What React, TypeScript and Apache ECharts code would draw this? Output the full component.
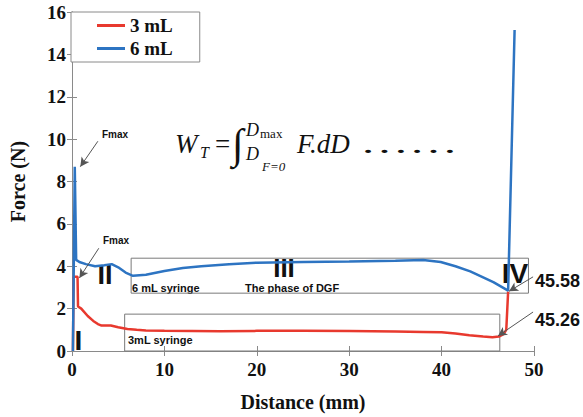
import React, { useEffect, useRef } from "react";
import * as echarts from "echarts";

// 3 mL syringe curve (distance mm, force N)
const dist3 = [0.1, 0.18, 0.6, 0.65, 1.0, 1.7, 2.3, 2.8, 3.2, 4.2, 5.0, 6.0, 7.0, 8.0, 10, 13, 16, 20, 25, 30, 35, 38, 40, 41.5, 43, 44.5, 45.5, 46.2, 46.7, 47.0, 47.2];
const force3 = [0, 3.5, 3.5, 2.1, 2.0, 1.65, 1.42, 1.27, 1.2, 1.2, 1.12, 1.04, 1.0, 0.97, 0.95, 0.94, 0.93, 0.95, 0.95, 0.94, 0.92, 0.9, 0.88, 0.83, 0.74, 0.68, 0.65, 0.68, 0.8, 1.0, 2.8];

// 6 mL syringe curve
const dist6 = [0.1, 0.3, 0.45, 0.8, 1.5, 2.5, 3.5, 4.3, 5.0, 5.8, 6.6, 8, 10, 12, 14, 17, 20, 25, 30, 35, 38, 39.9, 41.5, 43.1, 45.6, 47.2, 47.9];
const force6 = [0, 8.7, 4.3, 4.2, 4.1, 4.0, 4.05, 4.1, 3.95, 3.7, 3.55, 3.6, 3.78, 3.92, 4.0, 4.1, 4.17, 4.2, 4.22, 4.26, 4.3, 4.2, 4.0, 3.76, 3.25, 2.85, 15.15];

const seriesNames = ["3 mL", "6 mL"];
const xTicks = { min: 0, max: 50, interval: 10 };
const yTicks = { min: 0, max: 16, interval: 2 };

// annotation boxes [x1, y1, x2, y2] in data units
const box6 = [6.4, 2.73, 49.4, 4.38];
const box3 = [5.7, 0, 46.3, 1.74];

// arrows [fromX, fromY, toX, toY] in data units
const arrows = [
  [2.8, 9.9, 0.9, 8.7],
  [2.9, 4.85, 0.8, 3.45],
  [49.9, 3.5, 47.3, 2.82],
  [49.9, 1.84, 46.1, 0.71],
];

const RED = "#e8392e";
const BLUE = "#2d74c2";
const SERIF = "'Liberation Serif', 'Times New Roman', serif";
const SANS = "'Liberation Sans', Arial, sans-serif";

export default function App() {
  const ref = useRef<HTMLDivElement>(null);
  useEffect(() => {
    if (!ref.current) return;
    const chart = echarts.init(ref.current, undefined, { renderer: "svg" });
    const axisLine = { show: true, lineStyle: { color: "#8a8a8a", width: 1 } };
    const tick = { show: true, inside: true, length: 5, lineStyle: { color: "#8a8a8a" } };
    const labelFont = { fontFamily: SERIF, fontWeight: "bold" as const, fontSize: 19, color: "#111" };
    const pairs = (xs: number[], ys: number[]) => xs.map((x, i) => [x, ys[i]]);
    const boxStyle = { color: "rgba(0,0,0,0)", borderColor: "#7a7a7a", borderWidth: 1 };
    const arrowLine = (a: number[]) => [{ coord: [a[0], a[1]] }, { coord: [a[2], a[3]] }];
    const txt = (text: string, x: number, y: number, font: string, align = "left", extra: any = {}) => ({
      type: "text",
      x,
      y,
      silent: true,
      ...extra,
      style: { text, font, fill: "#111", align, verticalAlign: "middle", textAlign: align, textVerticalAlign: "middle" },
    });
    chart.setOption({
      animation: false,
      backgroundColor: "#fff",
      grid: { left: 71, top: 12, width: 463, height: 340, containLabel: false },
      legend: {
        data: seriesNames,
        orient: "vertical",
        left: 71,
        top: 12,
        padding: [4, 27, 4, 26],
        itemGap: 4,
        itemWidth: 28,
        itemHeight: 3,
        icon: "rect",
        borderColor: "#8a8a8a",
        borderWidth: 1,
        backgroundColor: "#fff",
        textStyle: { ...labelFont, lineHeight: 19 },
      },
      xAxis: [
        {
          type: "value",
          ...xTicks,
          name: "Distance (mm)",
          nameLocation: "middle",
          nameGap: 41,
          nameTextStyle: { fontFamily: SERIF, fontWeight: "bold", fontSize: 20, color: "#111" },
          axisLine,
          axisTick: tick,
          splitLine: { show: false },
          axisLabel: { ...labelFont, margin: 9 },
        },
        {
          type: "value",
          position: "top",
          ...xTicks,
          axisLine,
          axisTick: tick,
          splitLine: { show: false },
          axisLabel: { show: false },
        },
      ],
      yAxis: [
        {
          type: "value",
          ...yTicks,
          name: "Force (N)",
          nameLocation: "middle",
          nameGap: 44,
          nameTextStyle: { fontFamily: SERIF, fontWeight: "bold", fontSize: 20, color: "#111" },
          axisLine,
          axisTick: tick,
          splitLine: { show: false },
          axisLabel: { ...labelFont, margin: 6 },
        },
        {
          type: "value",
          position: "right",
          ...yTicks,
          axisLine,
          axisTick: tick,
          splitLine: { show: false },
          axisLabel: { show: false },
        },
      ],
      series: [
        {
          name: seriesNames[0],
          type: "line",
          data: pairs(dist3, force3),
          showSymbol: false,
          symbol: "none",
          lineStyle: { color: RED, width: 2.5 },
          itemStyle: { color: RED },
          z: 2,
          markArea: {
            silent: true,
            itemStyle: boxStyle,
            label: { show: false },
            data: [[{ coord: [box3[0], box3[1]] }, { coord: [box3[2], box3[3]] }]],
          },
          markLine: {
            silent: true,
            symbol: ["none", "arrow"],
            symbolSize: [7, 9],
            label: { show: false },
            lineStyle: { color: "#555", width: 1, type: "solid" },
            data: arrows.map(arrowLine),
          },
        },
        {
          name: seriesNames[1],
          type: "line",
          data: pairs(dist6, force6),
          showSymbol: false,
          symbol: "none",
          lineStyle: { color: BLUE, width: 2.5 },
          itemStyle: { color: BLUE },
          z: 3,
          markArea: {
            silent: true,
            itemStyle: boxStyle,
            label: { show: false },
            data: [[{ coord: [box6[0], box6[1]] }, { coord: [box6[2], box6[3]] }]],
          },
        },
      ],
      graphic: [
        txt("Fmax", 102, 134, `bold 10px ${SANS}`),
        txt("Fmax", 103, 240, `bold 10px ${SANS}`),
        txt("I", 78.5, 340, `bold 28px ${SANS}`, "center"),
        txt("II", 105, 275, `bold 27px ${SANS}`, "center"),
        txt("III", 284, 268, `bold 26px ${SANS}`, "center"),
        txt("IV", 515, 273, `bold 28px ${SANS}`, "center"),
        txt("45.58", 535, 281, `bold 18px ${SANS}`),
        txt("45.26", 535, 320, `bold 18px ${SANS}`),
        txt("6 mL syringe", 132, 288, `bold 11px ${SANS}`),
        txt("The phase of DGF", 245, 288, `bold 11px ${SANS}`),
        txt("3mL syringe", 128, 340, `bold 11px ${SANS}`),
        // formula W_T = ∫ F.dD ……
        txt("W", 175, 144, `italic 27px ${SERIF}`),
        txt("T", 200, 152, `italic 16px ${SERIF}`),
        txt("=", 215, 144, `27px ${SERIF}`),
        txt("∫", 232, 144, `42px ${SERIF}`),
        txt("D", 246, 130, `italic 18px ${SERIF}`),
        txt("max", 260, 133, `13px ${SERIF}`),
        txt("D", 246, 154, `italic 18px ${SERIF}`),
        txt("F=0", 262, 166, `italic 13px ${SERIF}`),
        txt("F.dD", 297, 144, `italic 27px ${SERIF}`),
        txt("……", 360, 144, `28px ${SERIF}`, "left", { scaleX: 1.75 }),
      ],
    });
    return () => chart.dispose();
  }, []);
  return <div ref={ref} style={{ position: "absolute", left: 0, top: 0, width: 583, height: 417 }} />;
}
